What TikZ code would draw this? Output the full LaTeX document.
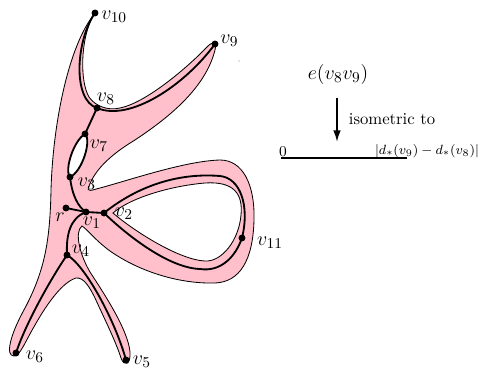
\documentclass[tikz,border=0pt]{standalone}
\usetikzlibrary{arrows.meta}
\definecolor{blob}{RGB}{255,192,203}
\begin{document}
\begin{tikzpicture}[x=0.6pt,y=-0.6pt,
  dot/.style={circle,fill=black,inner sep=0pt,minimum size=4pt},
  edge/.style={line width=1.1pt},
  outline/.style={line width=0.5pt},
  lab/.style={font=\fontsize{12.5}{14}\selectfont,inner sep=0pt}]
\useasboundingbox (0,0) rectangle (479,371);

% thickened region (outer boundary and the hole inside the loop)
\def\outerpath{(97,11) .. controls (70,40) and (53,120) .. (51,190)
  .. controls (50,240) and (45,270) .. (25,308)
  .. controls (10,335) and (5,356) .. (14,356)
  .. controls (20,356) and (25,342) .. (35,325)
  .. controls (48,302) and (63,282) .. (76,278)
  .. controls (84,277) and (90,288) .. (95,298)
  .. controls (105,320) and (116,342) .. (121,358)
  .. controls (124,367) and (131,365) .. (130,352)
  .. controls (128,330) and (105,295) .. (90,272)
  .. controls (80,255) and (74,232) .. (82,226)
  .. controls (88,230) and (95,240) .. (110,251)
  .. controls (140,272) and (180,284) .. (215,283)
  .. controls (240,282) and (253,260) .. (254,220)
  .. controls (255,185) and (243,160) .. (220,160)
  .. controls (185,161) and (130,180) .. (100,188)
  .. controls (92,190) and (86,193) .. (89,186)
  .. controls (95,170) and (110,155) .. (135,140)
  .. controls (165,120) and (205,90) .. (215,50)
  .. controls (217,43) and (213,41) .. (208,46)
  .. controls (185,70) and (145,103) .. (120,108)
  .. controls (108,111) and (95,106) .. (89,97)
  .. controls (80,82) and (80,40) .. (93,16)
  .. controls (95,13) and (96,12) .. (97,11) -- cycle}
\def\holepath{(113,213) .. controls (130,198) and (170,186) .. (205,183)
  .. controls (235,181) and (243,195) .. (241,215)
  .. controls (239,240) and (222,262) .. (205,261)
  .. controls (180,260) and (135,232) .. (113,213) -- cycle}
\fill[blob,even odd rule] \outerpath \holepath;
\draw[outline] \outerpath;
\draw[outline] \holepath;

% vertices
\node[dot] (v10) at (95,13) {};
\node[dot] (v9) at (215,44) {};
\node[dot] (v8) at (97,108) {};
\node[dot] (v7) at (85,134) {};
\node[dot] (v3) at (70,177) {};
\node[dot] (r) at (66,208) {};
\node[dot] (v1) at (86,212) {};
\node[dot] (v2) at (104,213) {};
\node[dot] (v4) at (67,255) {};
\node[dot] (v11) at (242,238) {};
\node[dot] (v6) at (16,353) {};
\node[dot] (v5) at (126,360) {};
\coordinate (lt) at (220,176);
\coordinate (lb) at (200,269);

% edges
\fill[white] (v7.center) .. controls (74,140) and (64,170) .. (v3.center)
  .. controls (82,172) and (92,140) .. (v7.center);
\draw[edge] (v10.center) .. controls (76,40) and (72,100) .. (v8.center);
\draw[edge] (v8.center) .. controls (130,122) and (185,85) .. (v9.center);
\draw[edge] (v8.center) -- (v7.center);
\draw[edge] (v7.center) .. controls (74,140) and (64,170) .. (v3.center);
\draw[edge] (v7.center) .. controls (92,140) and (82,172) .. (v3.center);
\draw[edge] (v3.center) .. controls (72,195) and (78,207) .. (v1.center);
\draw[edge] (r.center) -- (v1.center);
\draw[edge] (v1.center) -- (v2.center);
\draw[edge] (v1.center) .. controls (70,218) and (66,235) .. (v4.center);
\draw[edge] (v4.center) .. controls (50,280) and (25,325) .. (v6.center);
\draw[edge] (v4.center) .. controls (85,265) and (115,320) .. (v5.center);
\draw[edge] (v2.center) .. controls (130,192) and (170,172) .. (lt)
  .. controls (240,178) and (250,205) .. (v11.center)
  .. controls (235,258) and (220,272) .. (lb)
  .. controls (170,268) and (130,238) .. (v2.center);

% dots on top
\foreach \n in {v10,v9,v8,v7,v3,r,v1,v2,v4,v11,v6,v5}
  \fill (\n) circle (3.3);

% labels
\node[lab,anchor=west] (l10) at (101,17) {$v_{10}$};
\node[lab,anchor=west] (l9) at (220,41) {$v_9$};
\node[lab] (l8) at (106,99) {$v_8$};
\node[lab] (l7) at (99,146) {$v_7$};
\node[lab] (l3) at (87,184) {$v_3$};
\node[lab] (lr) at (60,217) {$r$};
\node[lab] (l1) at (92,223) {$v_1$};
\node[lab] (l2) at (124,214) {$v_2$};
\node[lab] (l4) at (81,251) {$v_4$};
\node[lab] (l11) at (270,243) {$v_{11}$};
\node[lab] (l6) at (35,357) {$v_6$};
\node[lab] (l5) at (142,362) {$v_5$};
\fill[gray] (239,61) circle (0.7);

% right part
\node[font=\fontsize{13}{15}\selectfont,inner sep=0pt] (e) at (338,75) {$e(v_8v_9)$};
\coordinate (atop) at (337,98);
\coordinate (atip) at (337,142);
\draw[line width=1.1pt,-{Latex[length=7pt,width=4.6pt]}] (atop) -- (atip);
\node[font=\fontsize{10}{12}\selectfont,inner sep=0pt] (iso) at (392,119) {isometric to};
\coordinate (s0) at (281,158);
\coordinate (s1) at (407,158);
\draw[line width=1.1pt] (s0) -- (s1);
\node[font=\fontsize{8.6}{10}\selectfont,inner sep=0pt] (zero) at (283,152) {$0$};
\node[font=\fontsize{8.4}{10}\selectfont,inner sep=0pt] (len) at (427,151) {$|d_*(v_9)-d_*(v_8)|$};
\end{tikzpicture}
\end{document}
